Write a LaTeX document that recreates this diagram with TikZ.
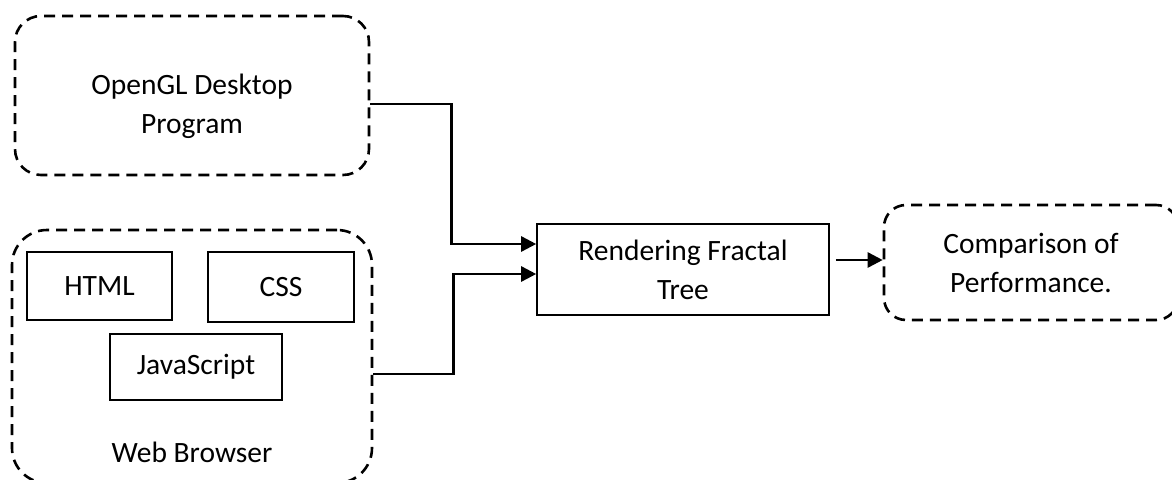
\documentclass[tikz,border=0pt]{standalone}
\usepackage{fontspec}
\setmainfont{Carlito}
\usetikzlibrary{arrows.meta,calc}
\tikzset{
  dbox/.style={draw, line width=2.6pt, dash pattern=on 11pt off 7pt, inner sep=0pt},
  sbox/.style={draw, line width=1.6pt, inner sep=0pt, align=center},
  lbl/.style={align=center, inner sep=0pt},
  conn/.style={line width=2.6pt, -{Triangle[length=15pt,width=15pt]}},
}
\begin{document}
\begin{tikzpicture}[x=1pt,y=-1pt,font=\fontsize{29.5}{39}\selectfont]
\useasboundingbox (0,0) rectangle (1172,479);
\clip (0,0) rectangle (1172,479);
% OpenGL box
\node[dbox, rounded corners=26pt, minimum width=354pt, minimum height=159pt] (ogl) at (192,95.5) {};
\node[lbl] (ogltxt) at (192,106) {OpenGL Desktop\\Program};
% Web browser box
\node[dbox, rounded corners=35pt, minimum width=360pt, minimum height=253pt] (wb) at (192,356.5) {};
\node[sbox, minimum width=145pt, minimum height=68pt] (html) at (99.5,286) {HTML};
\node[sbox, minimum width=146pt, minimum height=70pt] (css) at (281,287) {CSS};
\node[sbox, minimum width=172pt, minimum height=66pt] (js) at (196,367) {JavaScript};
\node[lbl] (wbtxt) at (192,452) {Web Browser};
% Rendering
\node[sbox, minimum width=292pt, minimum height=91pt] (rft) at (683,269.5) {Rendering Fractal\\Tree};
% Comparison
\node[dbox, rounded corners=22pt, minimum width=294pt, minimum height=115pt, align=center] (cmp) at (1031,262.5) {Comparison of\\Performance.};
% connectors
\coordinate (s1) at ($(ogl.east)+(0,8.5)$);
\coordinate (e1) at ($(rft.west)+(0,-25.5)$);
\draw[conn] (s1) -- ++(81,0) |- (e1);
\coordinate (s2) at ($(wb.east)+(0,17.5)$);
\coordinate (e2) at ($(rft.west)+(0,4.5)$);
\draw[conn] (s2) -- ++(80,0) |- (e2);
\coordinate (s3) at ($(rft.east)+(6,-9.5)$);
\draw[conn] (s3) -- (s3 -| cmp.west);
\end{tikzpicture}
\end{document}
